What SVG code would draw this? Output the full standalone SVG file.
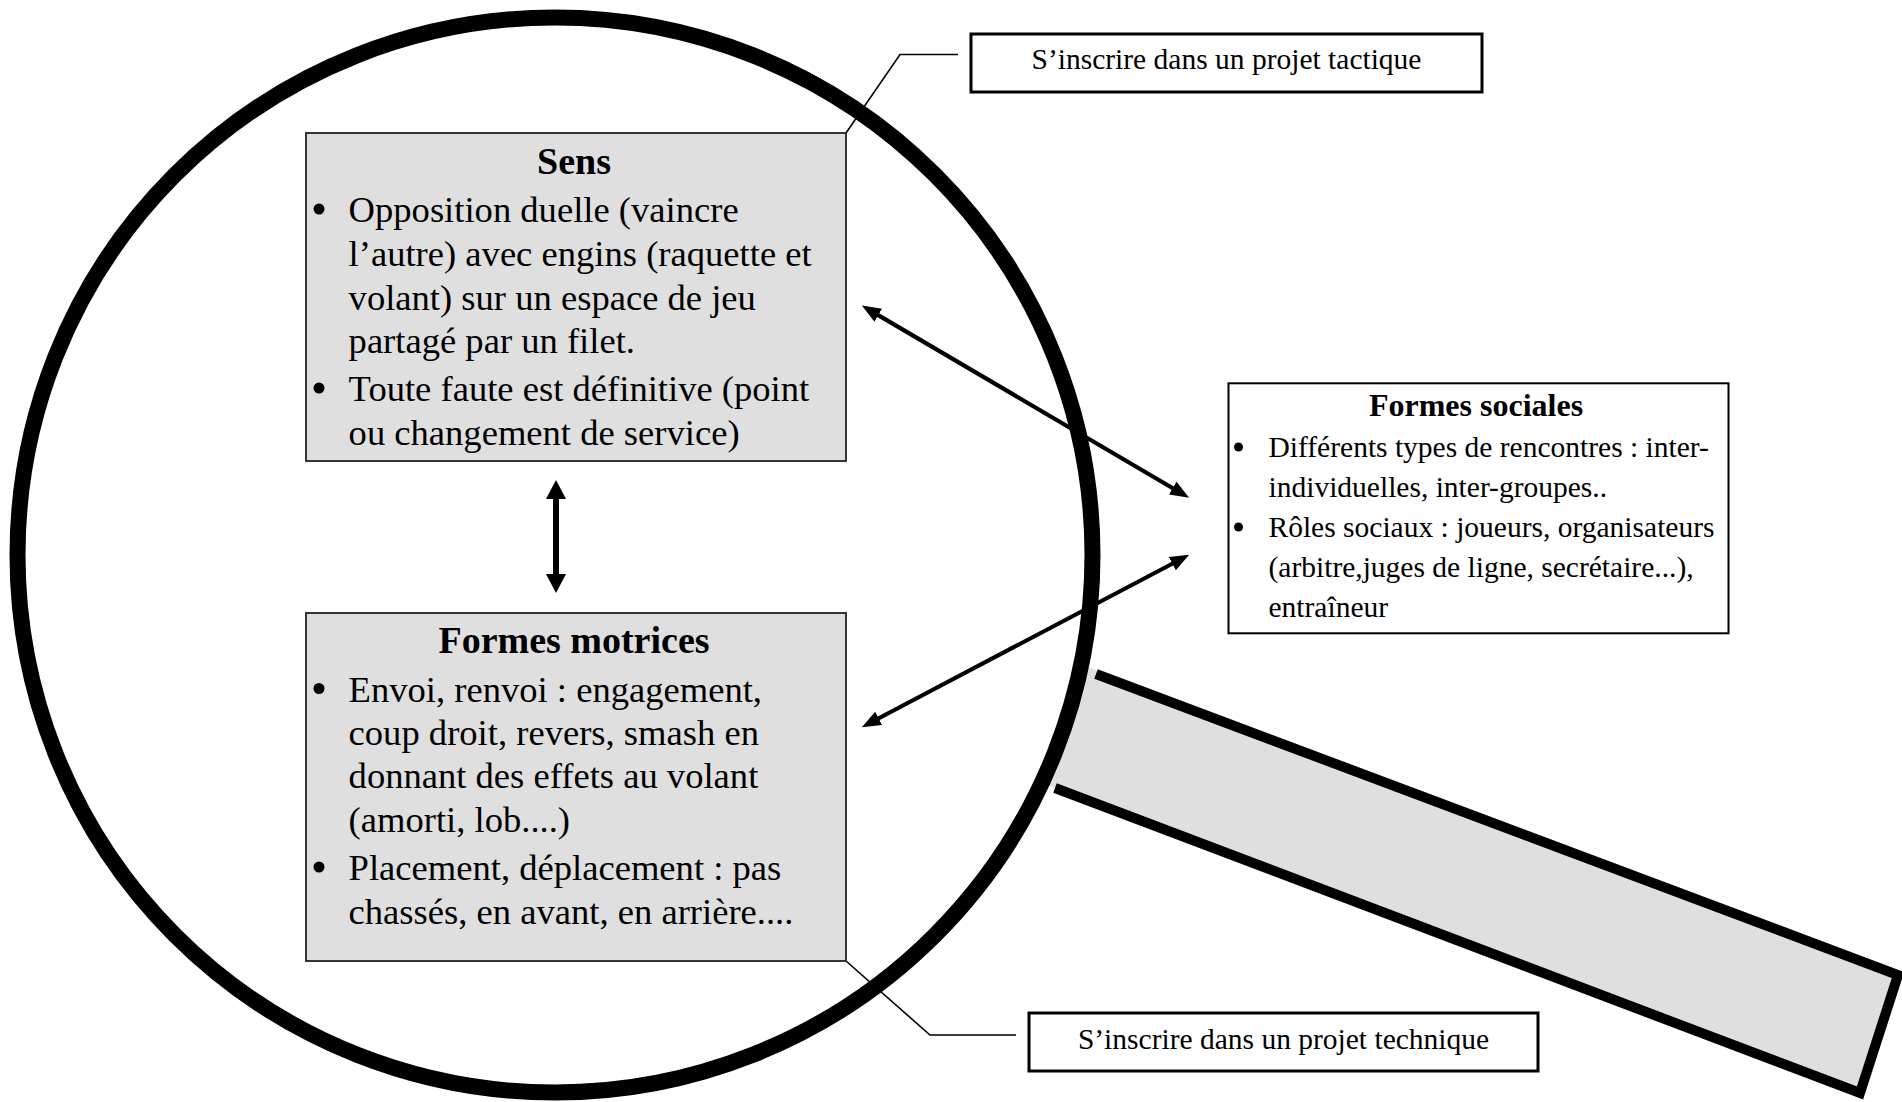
<svg xmlns="http://www.w3.org/2000/svg" width="1902" height="1102" viewBox="0 0 1902 1102">
<style>
.box{fill:#dfdfdf;stroke:#222;stroke-width:1.8}
.wbox{fill:#fff;stroke:#000;stroke-width:2}
.lbl{fill:#fff;stroke:#000;stroke-width:3}
.t{font-family:"Liberation Serif","Times New Roman",serif;fill:#000}
.body{font-size:36.6px}
.ttl{font-size:38px;font-weight:bold}
.sbody{font-size:29.5px}
.sttl{font-size:32px;font-weight:bold}
.lead{fill:none;stroke:#000;stroke-width:1.6}
.arr{stroke:#000;stroke-width:4.2;fill:none}
.varr{stroke:#000;stroke-width:6;fill:none}
</style>
<defs>
<marker id="ah" markerUnits="userSpaceOnUse" markerWidth="22" markerHeight="16" refX="9" refY="7.5" orient="auto-start-reverse">
<path d="M0,0 L19,7.5 L0,15 z" fill="#000"/>
</marker>
<marker id="vh" markerUnits="userSpaceOnUse" markerWidth="22" markerHeight="22" refX="9" refY="10" orient="auto-start-reverse">
<path d="M0,0 L19,10 L0,20 z" fill="#000"/>
</marker>
</defs>
<rect width="1902" height="1102" fill="#fff"/>
<g id="magnifier">
<polygon points="1001,634 1898,975 1860,1093 960,752" fill="#dfdfdf"/>
<polyline points="1096,674 1898,975 1860,1093 1055,788" fill="none" stroke="#000" stroke-width="10" stroke-linejoin="miter"/>
<circle cx="555" cy="555" r="537.5" fill="#fff" stroke="#000" stroke-width="16"/>
</g>
<g id="connectors">
<polyline class="lead" points="846,133 900,54.5 958,54.5"/>
<polyline class="lead" points="846,961 930,1035 1016,1035"/>
<line class="arr" x1="870.5" y1="310.6" x2="1180.5" y2="492.7" marker-start="url(#ah)" marker-end="url(#ah)"/>
<line class="arr" x1="1180.3" y1="559.5" x2="870.7" y2="722.5" marker-start="url(#ah)" marker-end="url(#ah)"/>
<line class="varr" x1="556" y1="490" x2="556" y2="583" marker-start="url(#vh)" marker-end="url(#vh)"/>
</g>
<g id="sens">
<rect class="box" x="306" y="133" width="540" height="328"/>
<text class="t ttl" x="574" y="174" text-anchor="middle">Sens</text>
<circle cx="319" cy="209" r="5.5"/>
<circle cx="319" cy="388" r="5.5"/>
<text class="t body" x="348.6" y="222">Opposition duelle (vaincre</text>
<text class="t body" x="348.6" y="266">l’autre) avec engins (raquette et</text>
<text class="t body" x="348.6" y="309.5">volant) sur un espace de jeu</text>
<text class="t body" x="348.6" y="353">partagé par un filet.</text>
<text class="t body" x="348.6" y="401">Toute faute est définitive (point</text>
<text class="t body" x="348.6" y="445">ou changement de service)</text>
</g>
<g id="formes-motrices">
<rect class="box" x="306" y="613" width="540" height="348"/>
<text class="t ttl" x="574" y="652.5" text-anchor="middle">Formes motrices</text>
<circle cx="319" cy="688.5" r="5.5"/>
<circle cx="319" cy="867" r="5.5"/>
<text class="t body" x="348.6" y="701.5">Envoi, renvoi : engagement,</text>
<text class="t body" x="348.6" y="744.5">coup droit, revers, smash en</text>
<text class="t body" x="348.6" y="788">donnant des effets au volant</text>
<text class="t body" x="348.6" y="831.5">(amorti, lob....)</text>
<text class="t body" x="348.6" y="880">Placement, déplacement : pas</text>
<text class="t body" x="348.6" y="923.5">chassés, en avant, en arrière....</text>
</g>
<g id="formes-sociales">
<rect class="wbox" x="1228.5" y="383.3" width="500" height="250"/>
<text class="t sttl" x="1476" y="416" text-anchor="middle">Formes sociales</text>
<circle cx="1238.5" cy="447" r="4.5"/>
<circle cx="1238.5" cy="527" r="4.5"/>
<text class="t sbody" x="1268.5" y="457.3">Différents types de rencontres : inter-</text>
<text class="t sbody" x="1268.5" y="497.3">individuelles, inter-groupes..</text>
<text class="t sbody" x="1268.5" y="537.4">Rôles sociaux : joueurs, organisateurs</text>
<text class="t sbody" x="1268.5" y="577.4">(arbitre,juges de ligne, secrétaire...),</text>
<text class="t sbody" x="1268.5" y="616.5">entraîneur</text>
</g>
<g id="projet-tactique">
<rect class="lbl" x="971" y="34" width="511" height="58"/>
<text class="t sbody" x="1226.5" y="69" text-anchor="middle">S’inscrire dans un projet tactique</text>
</g>
<g id="projet-technique">
<rect class="lbl" x="1029" y="1013" width="509" height="58"/>
<text class="t sbody" x="1283.5" y="1049" text-anchor="middle">S’inscrire dans un projet technique</text>
</g>
</svg>
